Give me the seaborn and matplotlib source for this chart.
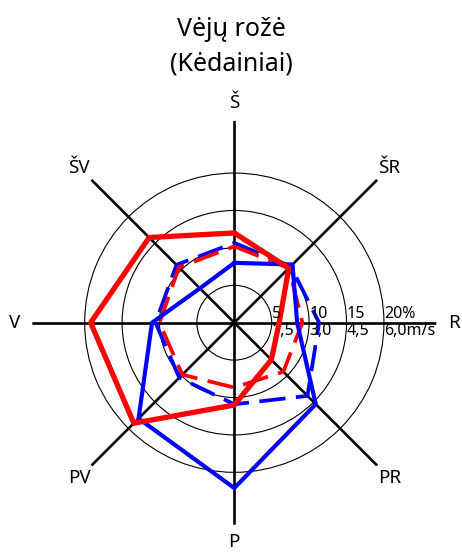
import numpy as np
import matplotlib
matplotlib.use("Agg")
import matplotlib.pyplot as plt
import matplotlib.transforms as mtransforms
import seaborn as sns

sns.set_theme(style="white")
plt.rcParams['font.family'] = ['Noto Sans', 'DejaVu Sans']

# ---- data ----
directions = ["Š", "ŠR", "R", "PR", "P", "PV", "V", "ŠV"]
angles_deg = [0, 45, 90, 135, 180, 225, 270, 315]

freq_red = [12.0, 10.3, 6.0, 7.0, 11.0, 19.0, 19.2, 16.1]       # %
freq_blue = [8.0, 11.0, 8.4, 15.4, 22.1, 18.1, 11.0, 6.5]       # %
speed_red = [3.06, 3.1, 2.73, 2.78, 2.6, 2.95, 3.0, 3.14]       # m/s
speed_blue = [3.2, 3.2, 3.4, 4.15, 3.27, 3.12, 3.16, 3.28]      # m/s

pct_ticks = [5, 10, 15, 20]
pct_labels = ["5", "10", "15", "20%"]
spd_ticks = [1.5, 3.0, 4.5, 6.0]
spd_labels = ["1,5", "3,0", "4,5", "6,0m/s"]

title_lines = ["Vėjų rožė", "(Kėdainiai)"]

# ---- layout ----
W, H = 462, 558
fig = plt.figure(figsize=(W / 100, H / 100), dpi=100)
cx, cy, rad = 234.3, 322.7, 202.0
rect = [(cx - rad) / W, (H - cy - rad) / H, 2 * rad / W, 2 * rad / H]

PCT_MAX = 27.0
SPD_MAX = PCT_MAX * 0.3

def setup(a, rmax):
    a.set_theta_zero_location("N")
    a.set_theta_direction(-1)
    a.set_rlim(0, rmax)

# bottom axes: speed scale, carries the grid
ax_s = fig.add_axes(rect, projection="polar", label="speed")
setup(ax_s, SPD_MAX)
ax_s.set_xticks(np.radians(angles_deg))
ax_s.set_xticklabels([])
ax_s.set_yticks(spd_ticks)
ax_s.set_yticklabels([])
ax_s.xaxis.grid(True, color="black", lw=1.9)
ax_s.yaxis.grid(True, color="black", lw=0.8)
ax_s.spines["polar"].set_visible(False)
ax_s.tick_params(length=0)
ax_s.patch.set_alpha(0)

# top axes: frequency scale
ax_p = fig.add_axes(rect, projection="polar", label="freq")
setup(ax_p, PCT_MAX)
ax_p.set_axis_off()

th = np.radians(angles_deg + [360])
def closed(v):
    return list(v) + [v[0]]

dash = (0, (7.0, 2.8))
sns.lineplot(x=th, y=closed(speed_blue), ax=ax_s, color="#0000FF", lw=2.7,
             linestyle=dash, sort=False, estimator=None)
sns.lineplot(x=th, y=closed(speed_red), ax=ax_s, color="#FF0000", lw=2.7,
             linestyle=dash, sort=False, estimator=None)
sns.lineplot(x=th, y=closed(freq_blue), ax=ax_p, color="#0000FF", lw=3.0,
             sort=False, estimator=None)
sns.lineplot(x=th, y=closed(freq_red), ax=ax_p, color="#FF0000", lw=3.8,
             sort=False, estimator=None)
ax_s.set_xlabel(""); ax_s.set_ylabel("")

# direction labels
for d, a in zip(directions, angles_deg):
    ax_p.text(np.radians(a), 29.3, d, ha="center", va="center",
              fontsize=13.5, color="black")

# radial labels
up = mtransforms.offset_copy(ax_p.transData, fig=fig, x=0.2, y=0.3, units="points")
for t, l in zip(pct_ticks, pct_labels):
    ax_p.text(np.pi / 2, t, l, ha="left", va="bottom", fontsize=11.5,
              color="black", transform=up)
dn = mtransforms.offset_copy(ax_s.transData, fig=fig, x=0.2, y=-0.3, units="points")
for t, l in zip(spd_ticks, spd_labels):
    ax_s.text(np.pi / 2, t, l, ha="left", va="top", fontsize=11.5,
              color="black", transform=dn)

fig.text(0.5, 1 - 29 / H, title_lines[0], ha="center", va="center",
         fontsize=18, color="black")
fig.text(0.5, 1 - 64 / H, title_lines[1], ha="center", va="center",
         fontsize=18, color="black")

fig.savefig("out.png", dpi=100)
